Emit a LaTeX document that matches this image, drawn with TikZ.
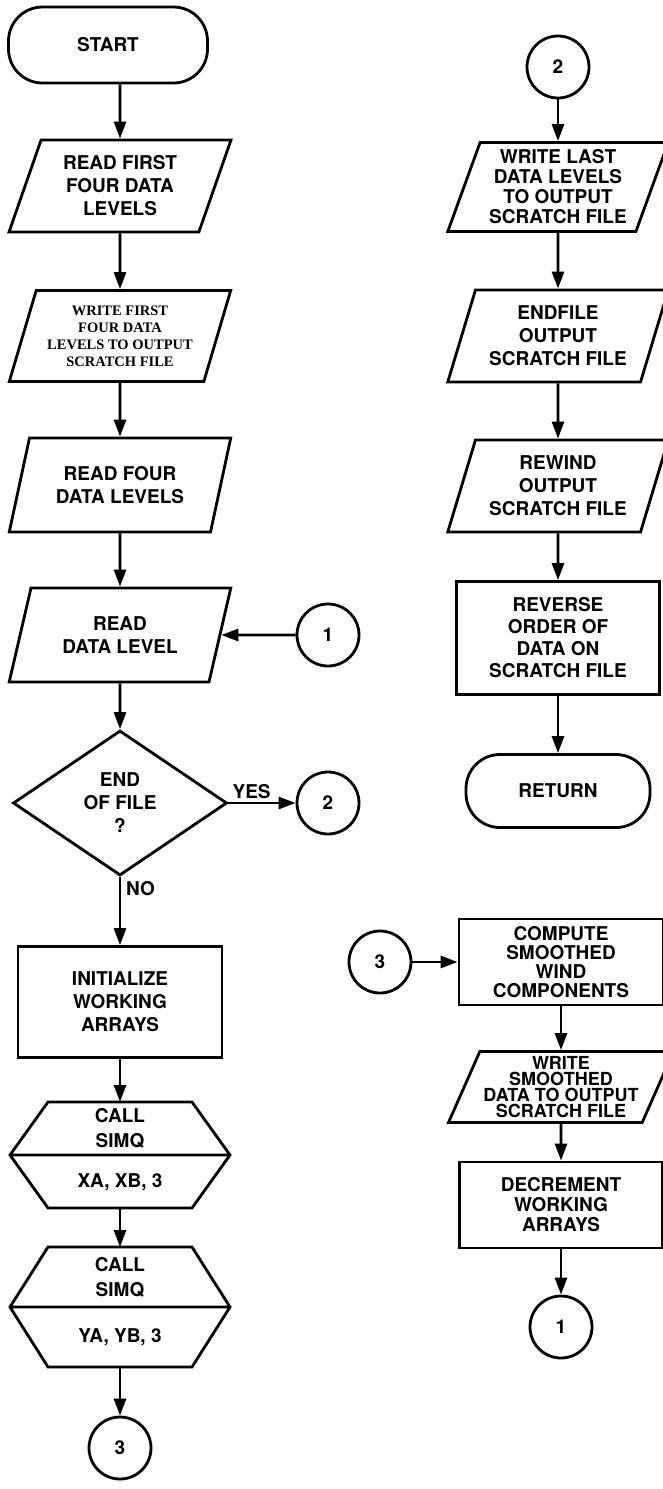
\documentclass[tikz,border=0pt]{standalone}
\usepackage{fontspec}
\setsansfont{TeX Gyre Heros}
\newfontfamily\typedfont{Liberation Serif}
\usetikzlibrary{shapes.geometric,arrows.meta,positioning}

\tikzset{
    box/.style={draw, line width=2.8pt, align=center, inner sep=0pt,
        font=\sffamily\bfseries\fontsize{19}{23}\selectfont},
    term/.style={box, rounded corners=34pt},
    proc/.style={box, rectangle},
    io/.style={box, trapezium, trapezium left angle=69, trapezium right angle=111,
        trapezium stretches=true},
    decide/.style={box, diamond},
    conn/.style={box, circle, minimum size=62pt},
    hexa/.style={rectangle, minimum width=220pt, inner sep=0pt, outer sep=0pt},
    lbl/.style={align=center, inner sep=1pt, font=\sffamily\bfseries\fontsize{19}{25}\selectfont},
    flow/.style={line width=2.8pt, -{Triangle[length=17pt,width=12pt]}},
}

% hexagon with a middle line, drawn round a hidden node
\newcommand{\hexpath}[1]{
    (#1.west) -- ([xshift=38pt]#1.north west) -- ([xshift=-38pt]#1.north east) --
    (#1.east) -- ([xshift=-38pt]#1.south east) -- ([xshift=38pt]#1.south west) -- cycle
    (#1.west) -- (#1.east)
}

\begin{document}
\begin{tikzpicture}[x=1pt, y=-1pt]

\useasboundingbox (0,0) rectangle (663,1489);

% left column
\node[term, minimum width=199pt, minimum height=76pt] (start) at (108,45) {START};
\node[io, minimum width=222pt, minimum height=92pt] (rdfirst) at (120,186) {READ FIRST\\FOUR DATA\\LEVELS};
\node[io, minimum width=222pt, minimum height=91pt,
      font=\typedfont\bfseries\fontsize{14.5}{17}\selectfont] (wrfirst) at (120,336)
      {WRITE FIRST\\FOUR DATA\\LEVELS TO OUTPUT\\SCRATCH FILE};
\node[io, minimum width=222pt, minimum height=94pt] (rdfour) at (120,485) {READ FOUR\\DATA LEVELS};
\node[io, minimum width=222pt, minimum height=94pt] (rdlevel) at (120,635) {READ\\DATA LEVEL};
\node[conn] (in1) at (328,635) {1};
\node[decide, minimum width=214pt, minimum height=145pt] (eof) at (120,803) {END\\OF FILE\\?};
\node[conn] (out2) at (328,803) {2};
\node[lbl, above right=3pt and 3pt of eof.east] (yes) {YES};
\node[lbl, below right=3pt and 5pt of eof.south] (no) {NO};
\node[proc, minimum width=204pt, minimum height=111pt] (init) at (120,1002) {INITIALIZE\\WORKING\\ARRAYS};

\node[hexa, minimum height=106pt] (simqx) at (120,1155) {};
\draw[line width=2.8pt] \hexpath{simqx};
\node[lbl] (simqxa) at ([yshift=27pt]simqx.center) {CALL\\SIMQ};
\node[lbl] (simqxb) at ([yshift=-27pt]simqx.center) {XA, XB, 3};

\node[hexa, minimum height=120pt] (simqy) at (120,1307) {};
\draw[line width=2.8pt] \hexpath{simqy};
\node[lbl] (simqya) at ([yshift=30pt]simqy.center) {CALL\\SIMQ};
\node[lbl] (simqyb) at ([yshift=-30pt]simqy.center) {YA, YB, 3};

\node[conn] (out3) at (120,1448) {3};

% right column
\node[conn] (in2) at (558,67) {2};
\node[io, minimum width=221pt, minimum height=89pt,
      font=\sffamily\bfseries\fontsize{19}{20}\selectfont] (wrlast) at (558,187)
      {WRITE LAST\\DATA LEVELS\\TO OUTPUT\\SCRATCH FILE};
\node[io, minimum width=221pt, minimum height=92pt] (endf) at (558,336) {ENDFILE\\OUTPUT\\SCRATCH FILE};
\node[io, minimum width=221pt, minimum height=92pt] (rewind) at (558,486) {REWIND\\OUTPUT\\SCRATCH FILE};
\node[proc, minimum width=203pt, minimum height=113pt,
      font=\sffamily\bfseries\fontsize{19}{22}\selectfont] (reverse) at (558,638)
      {REVERSE\\ORDER OF\\DATA ON\\SCRATCH FILE};
\node[term, minimum width=184pt, minimum height=73pt] (ret) at (558,791) {RETURN};

\node[conn] (in3) at (380,962) {3};
\node[proc, minimum width=204pt, minimum height=86pt,
      font=\sffamily\bfseries\fontsize{19}{19}\selectfont] (compute) at (561,962)
      {COMPUTE\\SMOOTHED\\WIND\\COMPONENTS};
\node[io, trapezium left angle=64, trapezium right angle=116, minimum width=225pt, minimum height=71pt,
      font=\sffamily\bfseries\fontsize{18}{16}\selectfont] (wrsmooth) at (561,1087)
      {WRITE\\SMOOTHED\\DATA TO OUTPUT\\SCRATCH FILE};
\node[proc, minimum width=203pt, minimum height=86pt,
      font=\sffamily\bfseries\fontsize{19}{20}\selectfont] (decrement) at (561,1205)
      {DECREMENT\\WORKING\\ARRAYS};
\node[conn] (out1) at (561,1327) {1};

% connectors
\draw[flow] (rdfirst |- start.south) -- (rdfirst);
\draw[flow] (rdfirst) -- (wrfirst);
\draw[flow] (wrfirst) -- (rdfour);
\draw[flow] (rdfour) -- (rdlevel);
\draw[flow] (in1) -- (rdlevel);
\draw[flow] (rdlevel) -- (eof);
\draw[flow] (eof) -- (out2);
\draw[flow] (eof) -- (init);
\draw[flow] (init) -- (simqx);
\draw[flow] (simqx) -- (simqy);
\draw[flow] (simqy) -- (out3);

\draw[flow] (in2) -- (wrlast);
\draw[flow] (wrlast) -- (endf);
\draw[flow] (endf) -- (rewind);
\draw[flow] (rewind) -- (reverse);
\draw[flow] (reverse) -- (ret);
\draw[flow] (in3) -- (compute);
\draw[flow] (compute) -- (wrsmooth);
\draw[flow] (wrsmooth) -- (decrement);
\draw[flow] (decrement) -- (out1);

\end{tikzpicture}
\end{document}
